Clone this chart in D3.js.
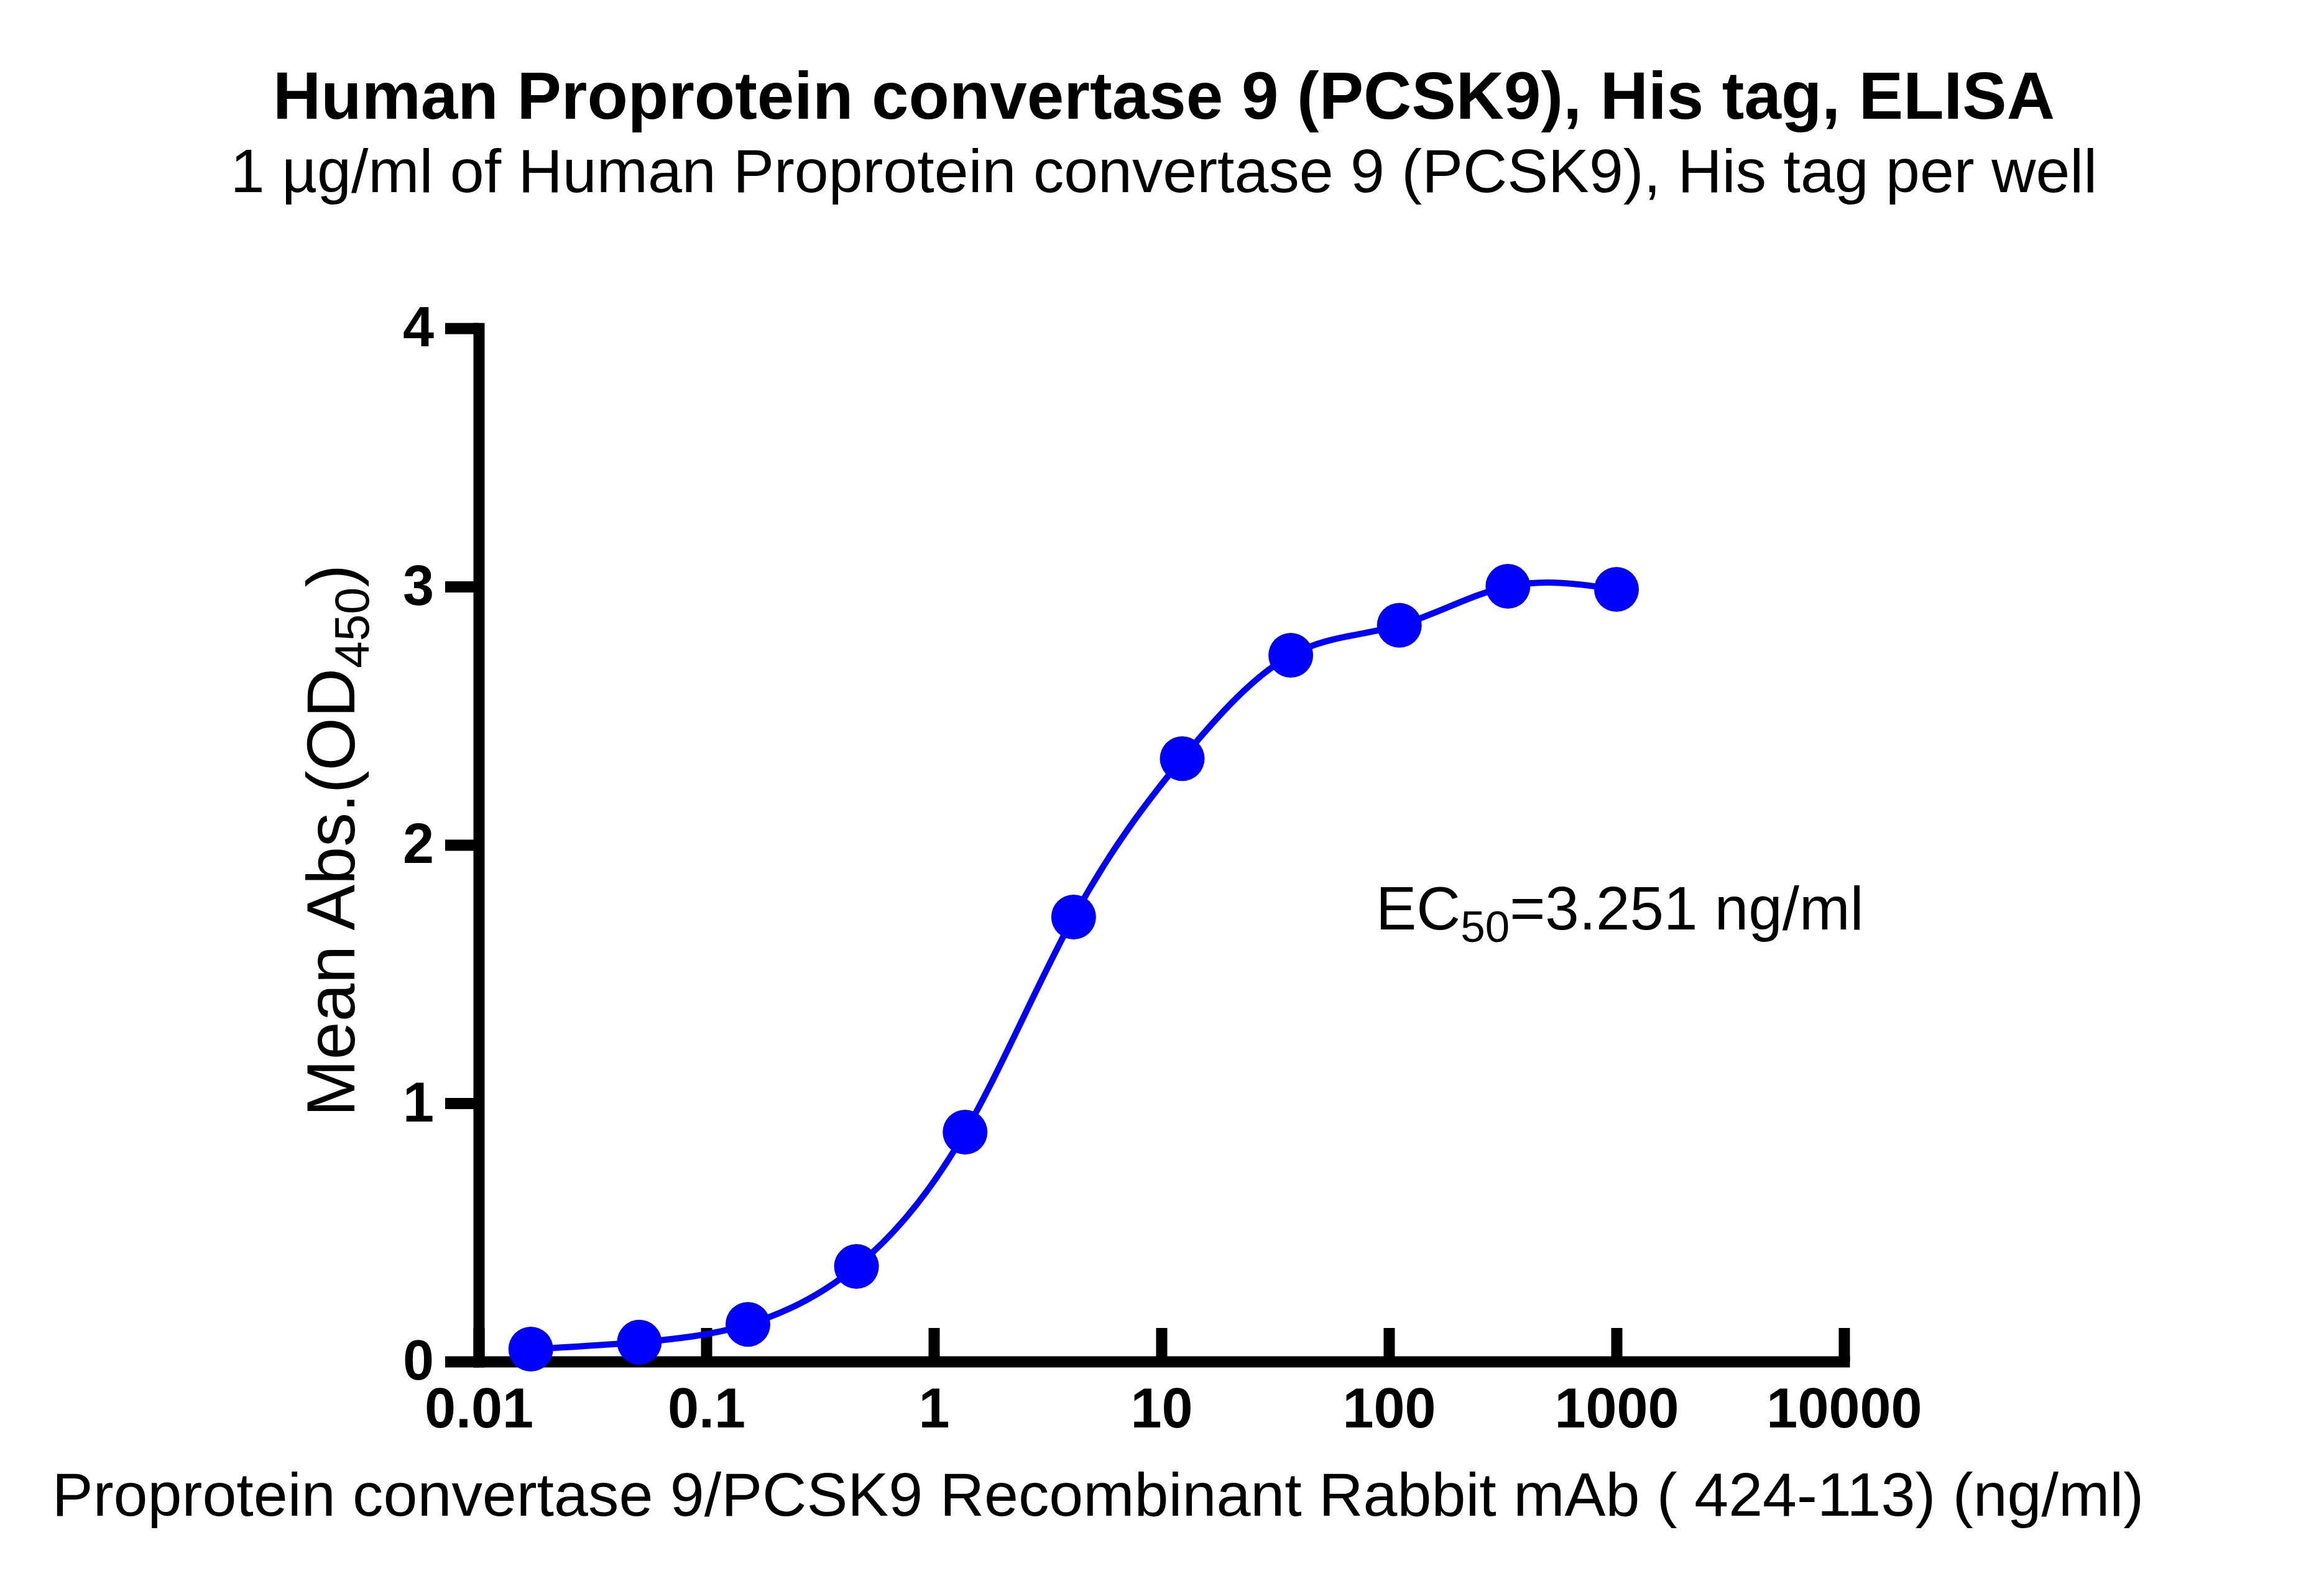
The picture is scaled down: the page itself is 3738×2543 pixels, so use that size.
<!DOCTYPE html>
<html lang="en">
<head>
    <meta charset="UTF-8">
    <title>PCSK9 ELISA</title>
    <script src="https://d3js.org/d3.v7.min.js" charset="utf-8"></script>
    <style>
        body { margin: 0; background: #fff; }
        svg { display: block; }
    </style>
</head>
<body>
<script type="text/javascript">

var w = 3738;
var h = 2543;
var font = "'Liberation Sans', Arial, sans-serif";
var blue = "#0000ff";

// concentrations (ng/ml), 3-fold dilution from 1000
var conc = [0.01694, 0.05081, 0.1524, 0.4572, 1.372, 4.115, 12.35, 37.04, 111.1, 333.3, 1000];
// mean OD450
var od = [0.048, 0.075, 0.144, 0.368, 0.888, 1.721, 2.334, 2.734, 2.850, 3.001, 2.989];

var xTicks = [0.01, 0.1, 1, 10, 100, 1000, 10000];
var xTickLabels = ["0.01", "0.1", "1", "10", "100", "1000", "10000"];
var yTicks = [0, 1, 2, 3, 4];

var points = conc.map(function(c, i) { return {x: c, y: od[i]}; });

var svg = d3.select("body")
    .append("svg")
    .attr("width", w)
    .attr("height", h);

svg.append("rect")
    .attr("width", w)
    .attr("height", h)
    .attr("fill", "#fff");

var x = d3.scaleLog()
    .domain([0.01, 10000])
    .range([770, 2966]);

var y = d3.scaleLinear()
    .domain([0, 4])
    .range([2190, 528]);

// titles
svg.append("text")
    .attr("x", 1872)
    .attr("y", 191)
    .attr("text-anchor", "middle")
    .attr("font-family", font)
    .attr("font-weight", "bold")
    .attr("font-size", 107)
    .text("Human Proprotein convertase 9 (PCSK9), His tag, ELISA");

svg.append("text")
    .attr("x", 1872)
    .attr("y", 309)
    .attr("text-anchor", "middle")
    .attr("font-family", font)
    .attr("font-size", 98.7)
    .text("1 \u00b5g/ml of Human Proprotein convertase 9 (PCSK9), His tag per well");

// x axis, ticks pointing up
var xAxis = svg.append("g")
    .attr("transform", "translate(0," + y(0) + ")")
    .call(d3.axisBottom(x)
        .tickValues(xTicks)
        .tickFormat(function(d, i) { return xTickLabels[i]; })
        .tickSizeInner(-54)
        .tickSizeOuter(0)
        .tickPadding(42));

// y axis
var yAxis = svg.append("g")
    .attr("transform", "translate(" + x(0.01) + ",0)")
    .call(d3.axisLeft(y)
        .tickValues(yTicks)
        .tickFormat(d3.format("d"))
        .tickSizeInner(54)
        .tickSizeOuter(0)
        .tickPadding(18));

[xAxis, yAxis].forEach(function(ax) {
    ax.select(".domain")
        .attr("stroke", "#000")
        .attr("stroke-width", 18)
        .attr("stroke-linecap", "square");
    ax.selectAll(".tick line")
        .attr("stroke", "#000")
        .attr("stroke-width", 18);
    ax.selectAll(".tick text")
        .attr("fill", "#000")
        .attr("font-family", font)
        .attr("font-weight", "bold")
        .attr("font-size", 90);
});

// axis titles
svg.append("text")
    .attr("x", 1766)
    .attr("y", 2438)
    .attr("text-anchor", "middle")
    .attr("font-family", font)
    .attr("font-size", 98.8)
    .text("Proprotein convertase 9/PCSK9 Recombinant Rabbit mAb ( 424-113) (ng/ml)");

var yLabel = svg.append("text")
    .attr("transform", "translate(570,1352) rotate(-90)")
    .attr("text-anchor", "middle")
    .attr("font-family", font)
    .attr("font-size", 110);
yLabel.append("tspan").text("Mean Abs.(OD");
yLabel.append("tspan").attr("dy", 23).attr("font-size", 78).text("450");
yLabel.append("tspan").attr("dy", -23).text(")");

// fitted curve
var line = d3.line()
    .x(function(d) { return x(d.x); })
    .y(function(d) { return y(d.y); })
    .curve(d3.curveNatural);

svg.append("path")
    .datum(points)
    .attr("d", line)
    .attr("fill", "none")
    .attr("stroke", blue)
    .attr("stroke-width", 10);

svg.selectAll("circle.pt")
    .data(points)
    .enter()
    .append("circle")
    .attr("class", "pt")
    .attr("cx", function(d) { return x(d.x); })
    .attr("cy", function(d) { return y(d.y); })
    .attr("r", 36)
    .attr("fill", blue);

// EC50 note
var ec = svg.append("text")
    .attr("x", 2213)
    .attr("y", 1495)
    .attr("font-family", font)
    .attr("font-size", 98);
ec.append("tspan").text("EC");
ec.append("tspan").attr("dy", 20).attr("font-size", 71).text("50");
ec.append("tspan").attr("dy", -20).text("=3.251 ng/ml");

</script>
</body>
</html>
